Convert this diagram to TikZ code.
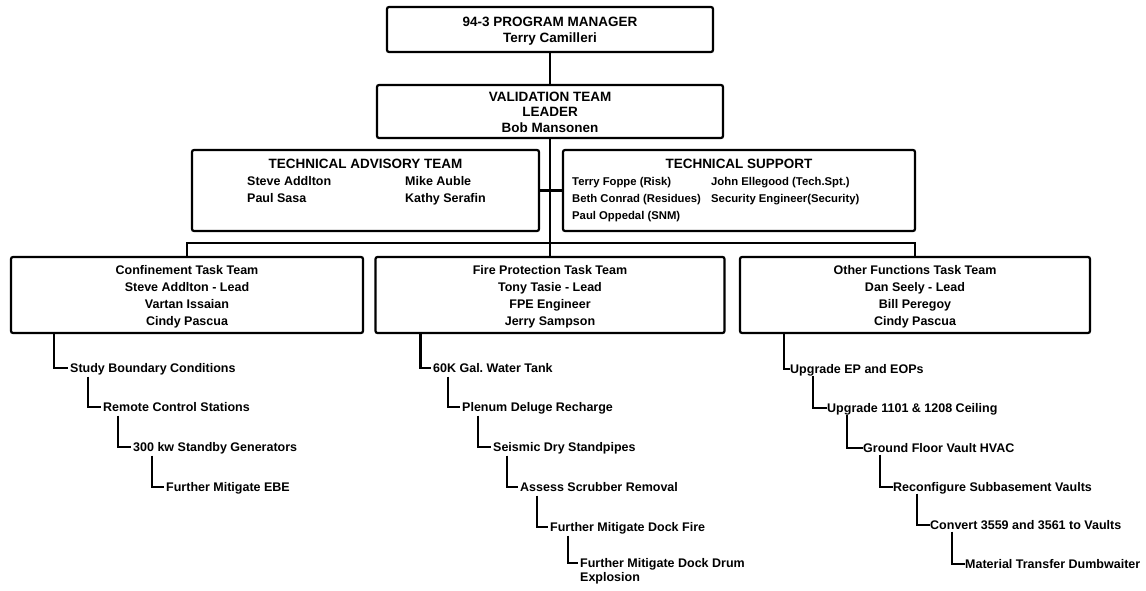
\documentclass[tikz,border=0pt]{standalone}
\usepackage{fontspec}
\setmainfont{Liberation Sans}
\usetikzlibrary{calc}
\begin{document}
\begin{tikzpicture}[x=1pt,y=-1pt,
  box/.style={draw, line width=2.2pt, rounded corners=2pt, inner sep=0pt, align=center},
  hdr/.style={inner sep=0pt, font=\bfseries\fontsize{13.5}{15.5}\selectfont, align=center},
  tb/.style={inner sep=0pt, font=\bfseries\fontsize{12.5}{17}\selectfont, align=center},
  nm/.style={anchor=base west, inner sep=0pt, font=\bfseries\fontsize{12.5}{15}\selectfont},
  snm/.style={anchor=base west, inner sep=0pt, font=\bfseries\fontsize{11.3}{15}\selectfont},
  item/.style={anchor=base west, inner sep=0pt, font=\bfseries\fontsize{12.5}{14}\selectfont, align=left},
  link/.style={line width=2.6pt},
  leg/.style={line width=2.6pt, shorten >=2pt}]
\useasboundingbox (0,0) rectangle (1146,590);

% top boxes
\node[box, minimum width=326, minimum height=45] (pm) at (550,29.5) {};
\node[hdr] (pmt) at (550,31) {94-3 PROGRAM MANAGER\\Terry Camilleri};
\node[box, minimum width=346, minimum height=53] (val) at (550,111.5) {};
\node[hdr] (valt) at (550,112) {VALIDATION TEAM\\LEADER\\Bob Mansonen};

% advisory / support
\node[box, minimum width=347, minimum height=81] (tat) at (365.5,190.5) {};
\node[hdr] (tatt) at (365.5,164) {TECHNICAL ADVISORY TEAM};
\node[nm] (tat1) at (247,185) {Steve Addlton};
\node[nm] (tat2) at (405,185) {Mike Auble};
\node[nm] (tat3) at (247,202.5) {Paul Sasa};
\node[nm] (tat4) at (405,202.5) {Kathy Serafin};

\node[box, minimum width=352, minimum height=81] (ts) at (739,190.5) {};
\node[hdr] (tst) at (739,164) {TECHNICAL SUPPORT};
\node[snm] (ts1) at (572,185) {Terry Foppe (Risk)};
\node[snm] (ts2) at (711,185) {John Ellegood (Tech.Spt.)};
\node[snm] (ts3) at (572,202.5) {Beth Conrad (Residues)};
\node[snm] (ts4) at (711,202.5) {Security Engineer(Security)};
\node[snm] (ts5) at (572,219.5) {Paul Oppedal (SNM)};

% task teams
\node[box, minimum width=352, minimum height=76] (conf) at (187,295) {};
\node[tb] (conft) at (187,297) {Confinement Task Team\\Steve Addlton - Lead\\Vartan Issaian\\Cindy Pascua};
\node[box, minimum width=349, minimum height=76] (fire) at (550,295) {};
\node[tb] (firet) at (550,297) {Fire Protection Task Team\\Tony Tasie - Lead\\FPE Engineer\\Jerry Sampson};
\node[box, minimum width=350, minimum height=76] (other) at (915,295) {};
\node[tb] (othert) at (915,297) {Other Functions Task Team\\Dan Seely - Lead\\Bill Peregoy\\Cindy Pascua};

% hierarchy connectors
\draw[link] (pm.south) -- (val.north);
\draw[link] (val.south) -- (fire.north);
\draw[link] (tat.east) -- (ts.west);
\draw[link] (conf.north) -- ++(0,-13) -| (other.north);

% confinement chain
\node[item] (c1) at (70,372.5) {Study Boundary Conditions};
\node[item] (c2) at (103,411.5) {Remote Control Stations};
\node[item] (c3) at (133,451.5) {300 kw Standby Generators};
\node[item] (c4) at (166,491.5) {Further Mitigate EBE};
\draw[leg] ($(conf.south west)+(44,0)$) |- ($(c1.base west)+(0,-4.5)$);
\draw[leg] ($(c1.base west)+(18,4)$) |- ($(c2.base west)+(0,-4.5)$);
\draw[leg] ($(c2.base west)+(15,4)$) |- ($(c3.base west)+(0,-4.5)$);
\draw[leg] ($(c3.base west)+(19,4)$) |- ($(c4.base west)+(0,-4.5)$);

% fire chain
\node[item] (f1) at (433,372.5) {60K Gal.\ Water Tank};
\node[item] (f2) at (462,411.5) {Plenum Deluge Recharge};
\node[item] (f3) at (493,451.5) {Seismic Dry Standpipes};
\node[item] (f4) at (520,491.5) {Assess Scrubber Removal};
\node[item] (f5) at (550,531.5) {Further Mitigate Dock Fire};
\node[item] (f6) at (580,581.5) {Further Mitigate Dock Drum\\Explosion};
\draw[leg] ($(fire.south west)+(46,0)$) |- ($(f1.base west)+(0,-4.5)$);
\draw[leg] ($(f1.base west)+(15,4)$) |- ($(f2.base west)+(0,-4.5)$);
\draw[leg] ($(f2.base west)+(16,4)$) |- ($(f3.base west)+(0,-4.5)$);
\draw[leg] ($(f3.base west)+(14,4)$) |- ($(f4.base west)+(0,-4.5)$);
\draw[leg] ($(f4.base west)+(17,4)$) |- ($(f5.base west)+(0,-4.5)$);
\draw[leg] ($(f5.base west)+(18,4)$) |- ($(f6.base west)+(0,-18.5)$);

% other chain
\node[item] (o1) at (790,373.5) {Upgrade EP and EOPs};
\node[item] (o2) at (827,412.5) {Upgrade 1101 \& 1208 Ceiling};
\node[item] (o3) at (863,452.5) {Ground Floor Vault HVAC};
\node[item] (o4) at (893,491.5) {Reconfigure Subbasement Vaults};
\node[item] (o5) at (930,529.5) {Convert 3559 and 3561 to Vaults};
\node[item] (o6) at (965,568.5) {Material Transfer Dumbwaiter};
\draw[link] ($(other.south west)+(45,0)$) |- ($(o1.base west)+(0,-4.5)$);
\draw[link] ($(o1.base west)+(23,2)$) |- ($(o2.base west)+(0,-4.5)$);
\draw[link] ($(o2.base west)+(20,2)$) |- ($(o3.base west)+(0,-4.5)$);
\draw[link] ($(o3.base west)+(17,2)$) |- ($(o4.base west)+(0,-4.5)$);
\draw[link] ($(o4.base west)+(24,2)$) |- ($(o5.base west)+(0,-4.5)$);
\draw[link] ($(o5.base west)+(22,2)$) |- ($(o6.base west)+(0,-4.5)$);
\end{tikzpicture}
\end{document}
